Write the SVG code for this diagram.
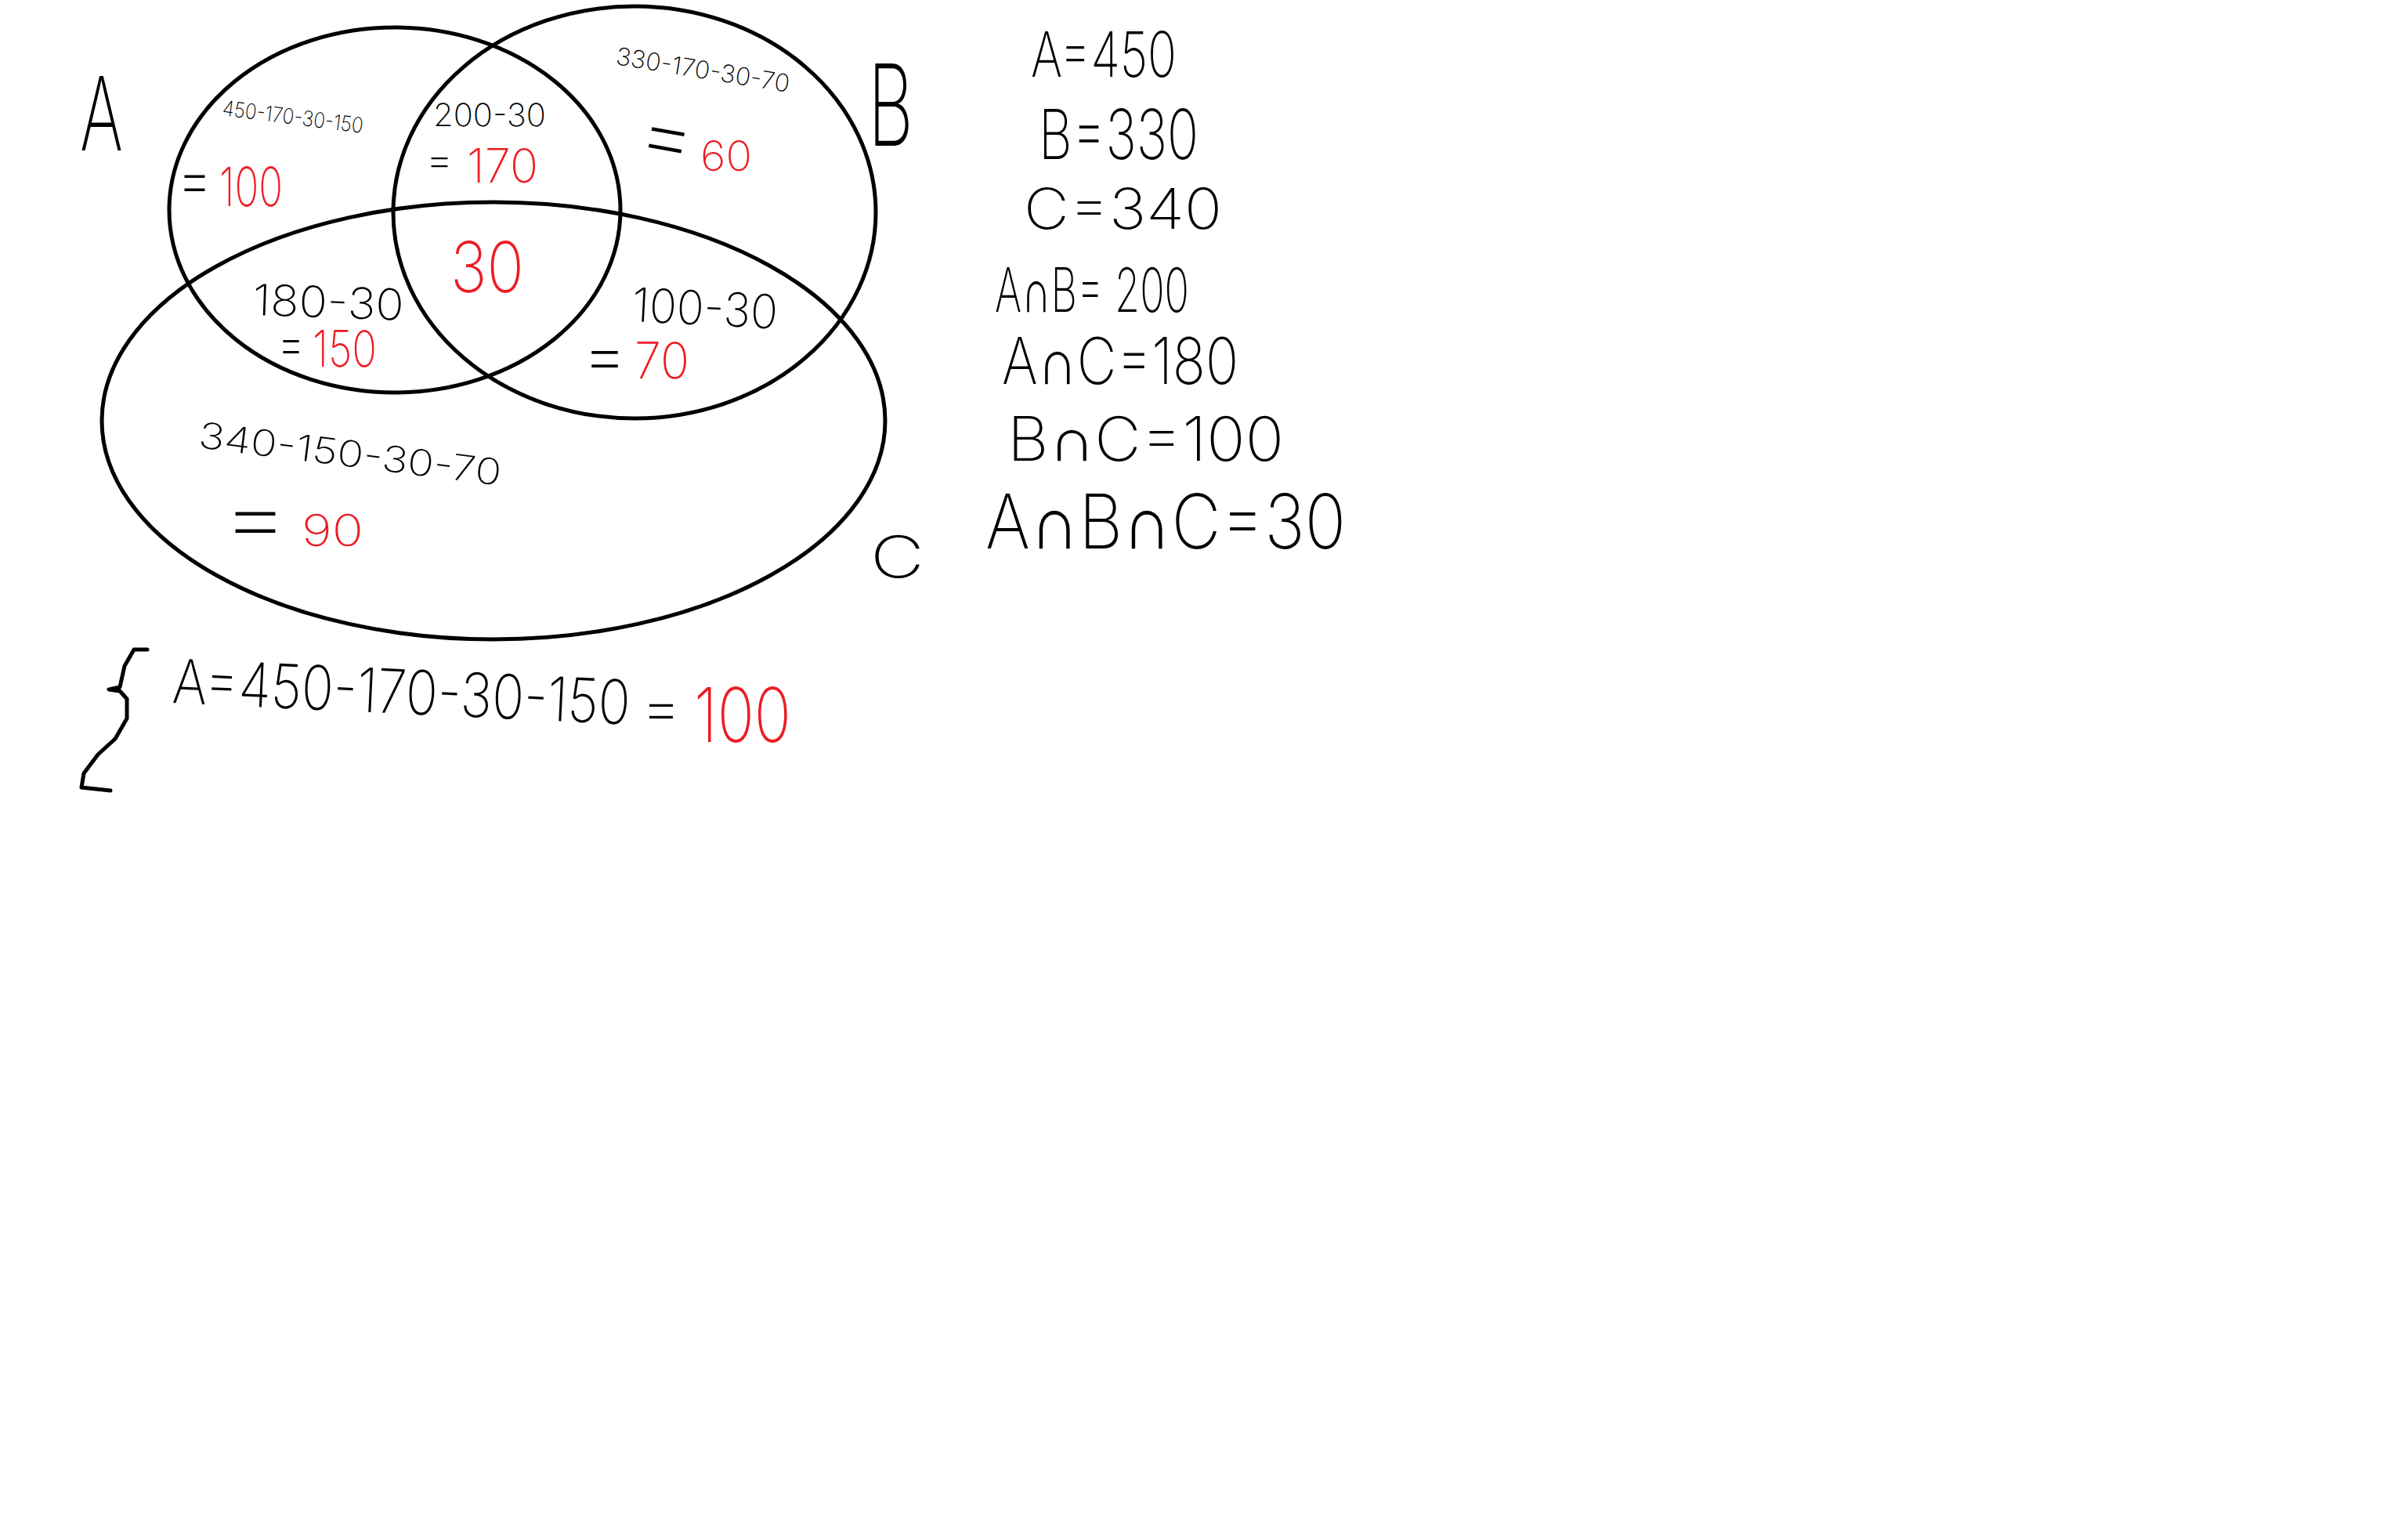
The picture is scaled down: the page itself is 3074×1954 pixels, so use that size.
<svg xmlns="http://www.w3.org/2000/svg" width="3074" height="1954" viewBox="0 0 3074 1954">
<style>
.ln{fill:none;stroke:#000;stroke-width:5}
.t{font-family:"Inter","Liberation Sans",sans-serif;font-weight:200;fill:#000}
.r{fill:#ed1c24}
</style>
<rect x="0" y="0" width="3074" height="1954" fill="#fff"/>
<g id="circles">
<ellipse id="setA" class="ln" cx="504" cy="268" rx="288" ry="233"/>
<ellipse id="setB" class="ln" cx="810" cy="271" rx="308" ry="263"/>
<ellipse id="setC" class="ln" cx="630" cy="537" rx="500" ry="279"/>
</g>
<g id="labels">
<text class="t" x="102" y="192" font-size="130" textLength="55" lengthAdjust="spacingAndGlyphs">A</text>
<text class="t" x="1108" y="186" font-size="145" textLength="58" lengthAdjust="spacingAndGlyphs">B</text>
<text class="t" x="1111" y="737" font-size="74" textLength="69" lengthAdjust="spacingAndGlyphs">C</text>
</g>
<g id="region-A-only">
<text class="t" x="283" y="147" font-size="27" textLength="181" lengthAdjust="spacingAndGlyphs" transform="rotate(7.3 283 147)">450-170-30-150</text>
<text class="t" x="226" y="258" font-size="85" textLength="45" lengthAdjust="spacingAndGlyphs">=</text>
<text class="t r" x="280" y="263" font-size="69" textLength="81" lengthAdjust="spacingAndGlyphs">100</text>
</g>
<g id="region-AB">
<text class="t" x="553" y="161" font-size="40" textLength="144" lengthAdjust="spacingAndGlyphs">200-30</text>
<text class="t" x="543" y="222" font-size="52" textLength="36" lengthAdjust="spacingAndGlyphs">=</text>
<text class="t r" x="596" y="233" font-size="60" textLength="91" lengthAdjust="spacingAndGlyphs">170</text>
</g>
<g id="region-B-only">
<text class="t" x="785" y="82" font-size="31" textLength="224" lengthAdjust="spacingAndGlyphs" transform="rotate(9.2 785 82)">330-170-30-70</text>
<text class="t" x="815" y="210" font-size="110" textLength="73" lengthAdjust="spacingAndGlyphs" transform="rotate(10 851 175)">=</text>
<text class="t r" x="894" y="218" font-size="53" textLength="66" lengthAdjust="spacingAndGlyphs">60</text>
</g>
<g id="region-ABC">
<text class="t r" x="575" y="373" font-size="90" textLength="94" lengthAdjust="spacingAndGlyphs">30</text>
</g>
<g id="region-AC">
<text class="t" x="322" y="402" font-size="55" textLength="193" lengthAdjust="spacingAndGlyphs" transform="rotate(2 322 402)">180-30</text>
<text class="t" x="354" y="462" font-size="70" textLength="35" lengthAdjust="spacingAndGlyphs">=</text>
<text class="t r" x="399" y="468" font-size="64" textLength="82" lengthAdjust="spacingAndGlyphs">150</text>
</g>
<g id="region-BC">
<text class="t" x="806" y="410" font-size="60" textLength="186" lengthAdjust="spacingAndGlyphs" transform="rotate(3 806 410)">100-30</text>
<text class="t" x="743" y="484" font-size="90" textLength="58" lengthAdjust="spacingAndGlyphs">=</text>
<text class="t r" x="810" y="483" font-size="64" textLength="70" lengthAdjust="spacingAndGlyphs">70</text>
</g>
<g id="region-C-only">
<text class="t" x="252" y="571" font-size="46" textLength="389" lengthAdjust="spacingAndGlyphs" transform="rotate(7.2 252 571)">340-150-30-70</text>
<text class="t" x="282" y="698" font-size="110" textLength="88" lengthAdjust="spacingAndGlyphs">=</text>
<text class="t r" x="385" y="697" font-size="56" textLength="79" lengthAdjust="spacingAndGlyphs">90</text>
</g>
<g id="given">
<text class="t" x="1316" y="98" font-size="80" textLength="186" lengthAdjust="spacingAndGlyphs">A=450</text>
<text class="t" x="1326" y="203" font-size="88" textLength="204" lengthAdjust="spacingAndGlyphs">B=330</text>
<text class="t" x="1307" y="292" font-size="72" textLength="253" lengthAdjust="spacingAndGlyphs">C=340</text>
<text class="t" x="1270" y="398" font-size="78" textLength="248" lengthAdjust="spacingAndGlyphs">A∩B= 200</text>
<text class="t" x="1279" y="490" font-size="82" textLength="302" lengthAdjust="spacingAndGlyphs">A∩C=180</text>
<text class="t" x="1286" y="588" font-size="78" textLength="353" lengthAdjust="spacingAndGlyphs">B∩C=100</text>
<text class="t" x="1258" y="700" font-size="96" textLength="460" lengthAdjust="spacingAndGlyphs">A∩B∩C=30</text>
</g>
<g id="calc">
<polyline class="ln" stroke-width="4" stroke-linejoin="round" stroke-linecap="round" points="188,829 171,829 159,850 153,877 139,880 153,882 162,892 162,917 147,943 125,963 107,987 104,1005 141,1009"/>
<text class="t" x="219" y="897" font-size="78" textLength="585" lengthAdjust="spacingAndGlyphs" transform="rotate(2.7 219 897)">A=450-170-30-150</text>
<text class="t" x="818" y="929" font-size="75" textLength="52" lengthAdjust="spacingAndGlyphs">=</text>
<text class="t r" x="886" y="947" font-size="96" textLength="124" lengthAdjust="spacingAndGlyphs">100</text>
</g>
<g id="connectors"/>
</svg>
